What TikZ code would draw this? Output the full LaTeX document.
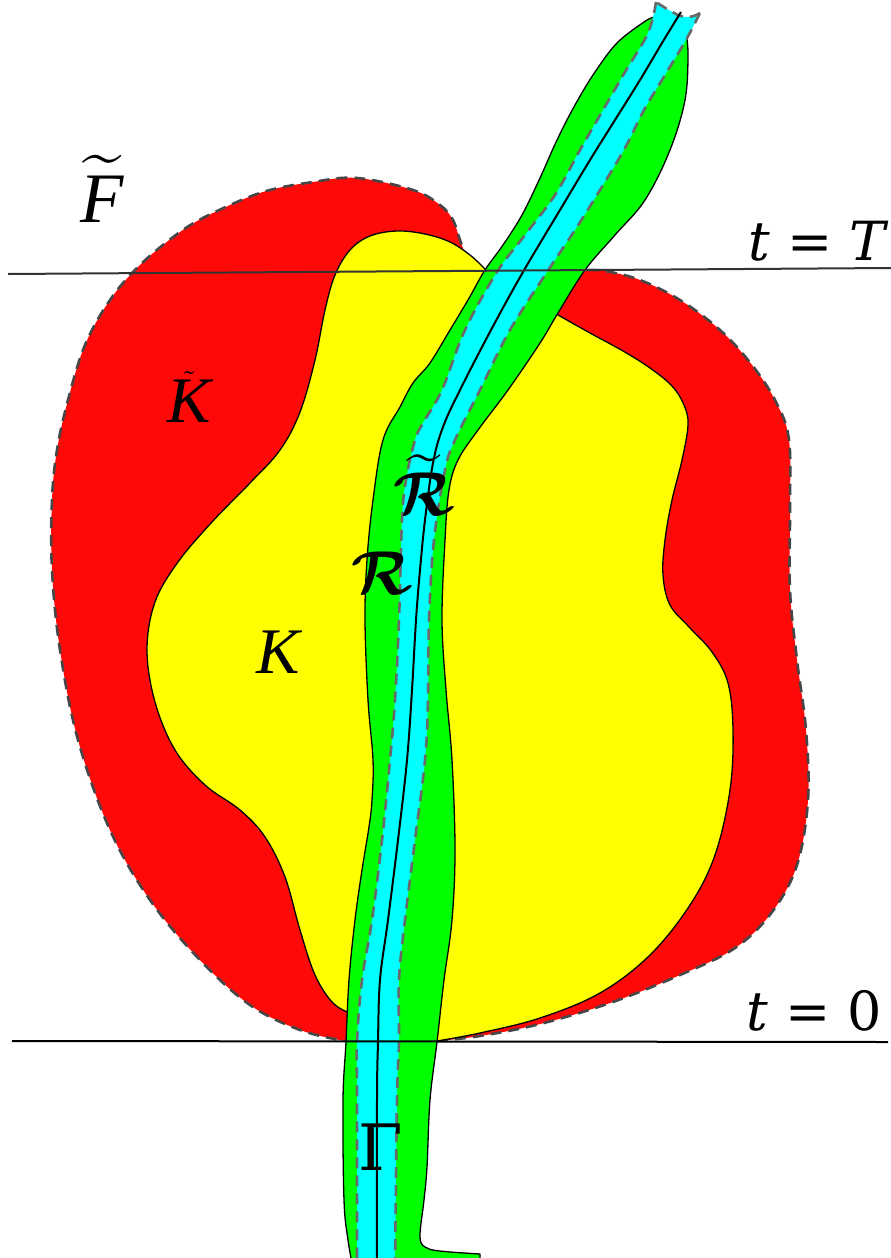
\documentclass[tikz,border=0pt]{standalone}
\usepackage{amsmath}
\usepackage{graphicx}
\usepackage{fontspec}
\newfontfamily\dvs{DejaVu Serif}
\newfontfamily\libs{Liberation Serif}
\definecolor{redc}{RGB}{255,8,8}
\definecolor{grn}{RGB}{0,255,0}
\definecolor{cyn}{RGB}{0,255,255}
\definecolor{yel}{RGB}{255,255,0}
\definecolor{dgray}{RGB}{70,70,70}
\definecolor{mgray}{RGB}{105,105,105}
\definecolor{lgray}{RGB}{51,51,51}
\tikzset{
  outl/.style={draw=black,line width=1.3pt,line join=round},
  bdash/.style={draw=dgray,line width=2.6pt,dash pattern=on 11pt off 7pt},
  cdash/.style={draw=mgray,line width=2.6pt,dash pattern=on 11pt off 7pt},
  lab/.style={anchor=base,inner sep=0pt,outer sep=0pt},
  tline/.style={line width=2pt},
}
\begin{document}
\begin{tikzpicture}[x=1pt,y=-1pt]
\useasboundingbox (0,0) rectangle (891,1258);
\clip (0,0) rectangle (891,1258);
% ---------- red region F~
\fill[redc] plot[smooth,tension=0.6] coordinates {(485,270) (468,258) (460,240) (453,220) (440,205) (413,190) (357,178) (313,182) (263,192) (213,213) (180,232) (140,265) (110,300) (85,345) (68,400) (57,450) (52,500) (52,570) (60,650) (78,740) (110,830) (150,900) (200,960) (250,1005) (300,1030) (345,1041)}
 -- plot[smooth,tension=0.6] coordinates {(437,1041) (480,1036) (540,1024) (610,1003) (680,975) (735,948) (772,912) (797,865) (808,800) (806,730) (797,660) (790,590) (790,510) (789,440) (776,402) (752,365) (720,330) (680,300) (640,280) (605,271) (585,270)} -- cycle;
\draw[bdash] plot[smooth,tension=0.6] coordinates {(485,270) (468,258) (460,240) (453,220) (440,205) (413,190) (357,178) (313,182) (263,192) (213,213) (180,232) (140,265) (110,300) (85,345) (68,400) (57,450) (52,500) (52,570) (60,650) (78,740) (110,830) (150,900) (200,960) (250,1005) (300,1030) (345,1041)};
\draw[bdash] plot[smooth,tension=0.6] coordinates {(437,1041) (480,1036) (540,1024) (610,1003) (680,975) (735,948) (772,912) (797,865) (808,800) (806,730) (797,660) (790,590) (790,510) (789,440) (776,402) (752,365) (720,330) (680,300) (640,280) (605,271) (585,270)};
% ---------- yellow region K
\path[fill=yel,outl] plot[smooth,tension=0.6] coordinates {(485,269) (470,255) (450,242) (425,234) (397,231) (370,236) (350,250) (335,275) (325,310) (315,360) (300,412) (280,450) (250,483) (212,522) (178,562) (155,602) (147,650) (155,702) (175,750) (205,785) (240,810) (265,837) (285,877) (300,930) (315,975) (333,1003) (352,1014)}
 -- plot[smooth,tension=0.6] coordinates {(437,1041) (480,1033) (540,1018) (600,993) (650,955) (690,905) (715,855) (730,790) (733,730) (728,683) (712,652) (690,628) (670,605) (663,575) (665,540) (672,500) (682,460) (688,425) (684,405) (672,386) (650,368) (623,351) (590,333) (558,315)} -- cycle;
% ---------- green tube R
\path[fill=grn,outl] plot[smooth,tension=0.6] coordinates {(647,20) (618,42) (595,72) (575,105) (557,140) (540,178) (522,215) (503,245) (485,270) (468,300) (450,330) (430,363) (413,383) (400,407) (383,440) (373,500) (367,560) (365,620) (368,700) (373,760) (372,800) (369,827) (362,870) (355,920) (349,980) (346,1042) (343,1100) (344,1200) (348,1240) (353,1268)}
 -- (480,1268) -- (480,1254)
 -- plot[smooth,tension=0.6] coordinates {(480,1254) (440,1251) (425,1247) (420,1236) (424,1200) (427,1167) (430,1100) (437,1042) (444,980) (452,920) (455,850) (452,760) (446,690) (442,620) (445,540) (449,490) (458,460) (478,430) (508,390) (540,343) (558,313) (585,270) (615,235) (645,200) (670,150) (685,100) (688,55) (686,32)}
 .. controls (682,18) and (660,12) .. (647,20) -- cycle;
% ---------- cyan band R~
\fill[cyn] plot[smooth,tension=0.6] coordinates {(656,2) (648,33) (625,72) (603,110) (580,150) (555,195) (525,235) (497,272) (465,330) (442,390) (423,423) (415,440) (406,480) (402,520) (399,620) (395,700) (390,760) (382,840) (372,920) (362,980) (357,1042) (357,1100) (357,1268)}
 -- plot[smooth,tension=0.6] coordinates {(395,1268) (397,1100) (399,1042) (399,980) (405,920) (415,840) (425,760) (428,700) (429,620) (434,540) (445,470) (455,440) (480,390) (510,330) (547,272) (575,230) (600,190) (625,148) (644,110) (665,75) (686,40) (700,13)}
 .. controls (692,18) and (684,18) .. (678,15) .. controls (670,11) and (662,6) .. (656,2) -- cycle;
\draw[cdash] plot[smooth,tension=0.6] coordinates {(656,2) (648,33) (625,72) (603,110) (580,150) (555,195) (525,235) (497,272) (465,330) (442,390) (423,423) (415,440) (406,480) (402,520) (399,620) (395,700) (390,760) (382,840) (372,920) (362,980) (357,1042) (357,1100) (357,1268)};
\draw[cdash] plot[smooth,tension=0.6] coordinates {(395,1268) (397,1100) (399,1042) (399,980) (405,920) (415,840) (425,760) (428,700) (429,620) (434,540) (445,470) (455,440) (480,390) (510,330) (547,272) (575,230) (600,190) (625,148) (644,110) (665,75) (686,40) (700,13)};
\draw[cdash] (700,13) .. controls (692,18) and (684,18) .. (678,15) .. controls (670,11) and (662,6) .. (656,2);
% ---------- curve Gamma (centre line)
\draw[black,line width=2pt] plot[smooth,tension=0.6] coordinates {(681,12) (662,43) (640,80) (615,120) (590,160) (560,210) (523,272) (491,330) (460,390) (443,427) (433,463) (425,520) (420,570) (416,620) (412,690) (407,760) (398,840) (388,920) (380,980) (378,1042) (377,1100) (377,1268)};
% ---------- time lines
\coordinate (tTa) at (8,274);
\coordinate (tTb) at (891,268);
\coordinate (t0a) at (12,1041);
\coordinate (t0b) at (888,1042);
\draw[tline,draw=lgray] (tTa) -- (tTb);
\draw[tline,draw=black] (t0a) -- (t0b);
% ---------- labels
\node[lab] (Ft) at (102,222) {\scalebox{7.1}{$\widetilde{\text{\libs\itshape F}}$}};
\node[lab] (Kt) at (189,422) {\scalebox{3.3}{$\tilde{\text{\fontsize{19.7}{22}\selectfont\libs\itshape K}}$}};
\node[lab,font=\libs\fontsize{65}{70}\selectfont] (K) at (278,673) {\itshape K};
\node[lab] (Rt) at (424,515) {\scalebox{6.2}{$\widetilde{\boldsymbol{\mathcal{R}}}$}};
\node[lab] (R) at (382,594) {\scalebox{6.2}{$\boldsymbol{\mathcal{R}}$}};
\node[lab,font=\dvs\fontsize{64}{70}\selectfont] (G) at (381,1170) {Γ};
\node[anchor=base east,inner sep=0pt,font=\dvs\fontsize{54}{60}\selectfont] (tT) at (886,260) {{\itshape t} = {\itshape T}};
\node[anchor=base east,inner sep=0pt,font=\dvs\fontsize{54}{60}\selectfont] (t0) at (882,1030) {{\itshape t} = 0};
\end{tikzpicture}
\end{document}
